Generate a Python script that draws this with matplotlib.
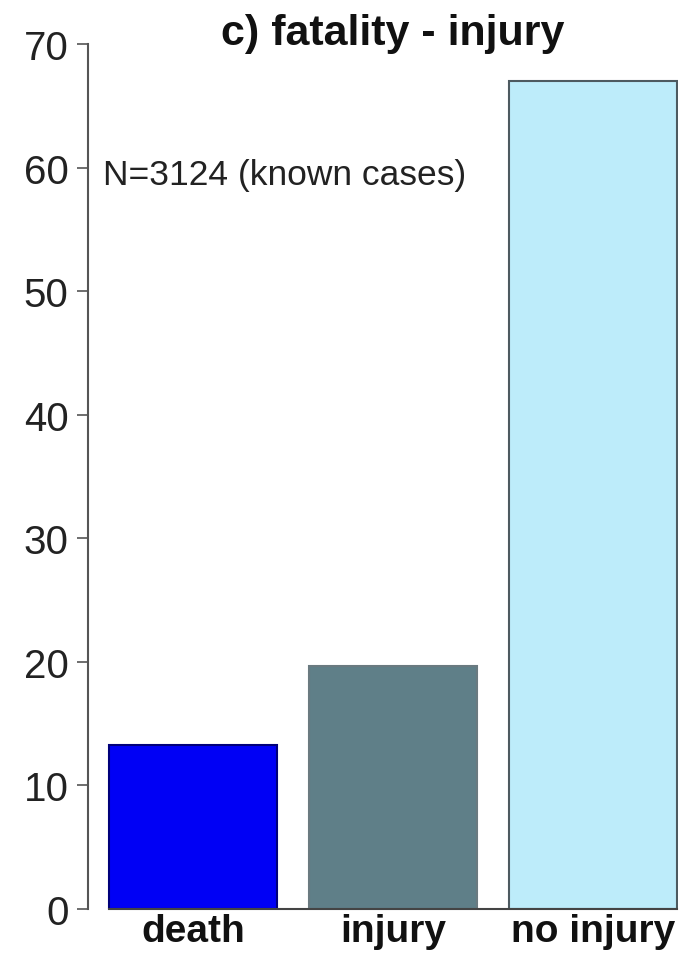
import matplotlib.pyplot as plt

categories = ['death', 'injury', 'no injury']
percent = [13.3, 19.7, 67.0]
bar_colors = ['#0000f5', '#5f7f88', '#bdecfa']
edge_colors = ['#00007a', '#6a7a80', '#4d5a60']
yticks = [0, 10, 20, 30, 40, 50, 60, 70]

plt.rcParams['font.family'] = ['Liberation Sans', 'DejaVu Sans']

fig = plt.figure(figsize=(6.91, 9.54), dpi=100)
ax = fig.add_axes([88 / 691, 1 - 910 / 954, 590 / 691, 865 / 954])

x = range(len(categories))
ax.bar(x, percent, width=0.84, color=bar_colors, edgecolor=edge_colors, linewidth=1.5, zorder=2)

ax.set_xlim(-0.525, 2.425)
ax.set_ylim(0, 70)
ax.set_yticks(yticks)
ax.set_xticks(list(x))
ax.set_xticklabels(categories, fontsize=28, fontweight='bold', color='#111111')
ax.tick_params(axis='y', labelsize=29, length=8, width=1.2, color='#555555', pad=6,
               labelcolor='#222222')
ax.tick_params(axis='x', length=0, pad=3)

for s in ['top', 'right']:
    ax.spines[s].set_visible(False)
ax.spines['left'].set_color('#555555')
ax.spines['left'].set_linewidth(1.5)
ax.spines['left'].set_bounds(0, 70)
ax.spines['bottom'].set_color('#444444')
ax.spines['bottom'].set_linewidth(1.5)
ax.spines['bottom'].set_bounds(-0.42, 2.42)

ax.text(-0.45, 59.4, 'N=3124 (known cases)', fontsize=25.5, va='center', ha='left', color='#222222')
fig.text(393 / 691, 1 - 34 / 954, 'c) fatality - injury', fontsize=31, fontweight='bold',
         ha='center', va='center', color='#111111')

fig.savefig('out.png', dpi=100)
